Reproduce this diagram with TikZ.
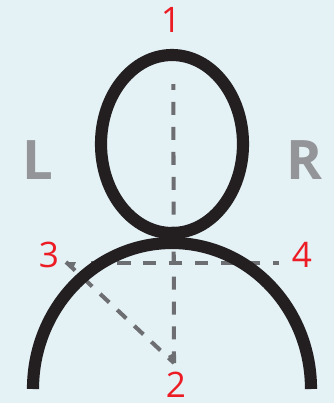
\documentclass[tikz,border=0pt]{standalone}
\usepackage{fontspec}
\setmainfont{Open Sans}
\definecolor{headbg}{RGB}{228,241,245}
\definecolor{headblack}{RGB}{35,31,32}
\definecolor{headred}{RGB}{237,28,36}
\definecolor{headgray}{RGB}{147,149,152}
\definecolor{headdash}{RGB}{109,110,113}
\tikzset{
    numlabel/.style={text=headred,font=\fontsize{20}{20}\selectfont,inner sep=0pt},
    sidelabel/.style={text=headgray,font=\bfseries\fontsize{31}{31}\selectfont,inner sep=0pt},
    outline/.style={headblack,line width=6.9pt},
    guide/.style={headdash,line width=2.3pt}
}
\begin{document}
\begin{tikzpicture}[x=0.02cm,y=-0.02cm]

        % Fond
        \fill[headbg] (0,0) rectangle (334,403);

        % Points de repere
        \coordinate (crown) at (173.3,84);
        \coordinate (foot) at (174,363);
        \coordinate (shoulderL) at (66,262);
        \coordinate (shoulderM) at (88,263.3);
        \coordinate (shoulderR) at (279,263.3);

        % Lignes pointillees
        \draw[guide,dash pattern=on 7.4pt off 6.8pt,dash phase=4pt] (crown) -- (foot);
        \draw[guide,dash pattern=on 7.65pt off 7.1pt,dash phase=4pt] (shoulderR) -- (shoulderM);
        \draw[guide,dash pattern=on 7.1pt off 6.2pt] (shoulderL) -- (foot);

        % Pointes
        \fill[headdash] (shoulderL) -- ++(10,0) -- ++(-3,6.5) -- cycle;
        \fill[headdash] (foot) -- ++(-6,-7) -- ++(6,-3) -- cycle;

        % Tete et epaules
        \draw[outline] (172,144) ellipse [x radius=71,y radius=89];
        \draw[outline] (33,389) arc [start angle=180,end angle=360,x radius=139,y radius=146];

        % Chiffres
        \node[numlabel] (one) at (171,20) {1};
        \node[numlabel] (two) at (176,385) {2};
        \node[numlabel] (three) at (49,255) {3};
        \node[numlabel] (four) at (302,255) {4};

        % Cotes
        \node[sidelabel] (left) at (38,160) {L};
        \node[sidelabel] (right) at (304,160) {R};

\end{tikzpicture}
\end{document}
